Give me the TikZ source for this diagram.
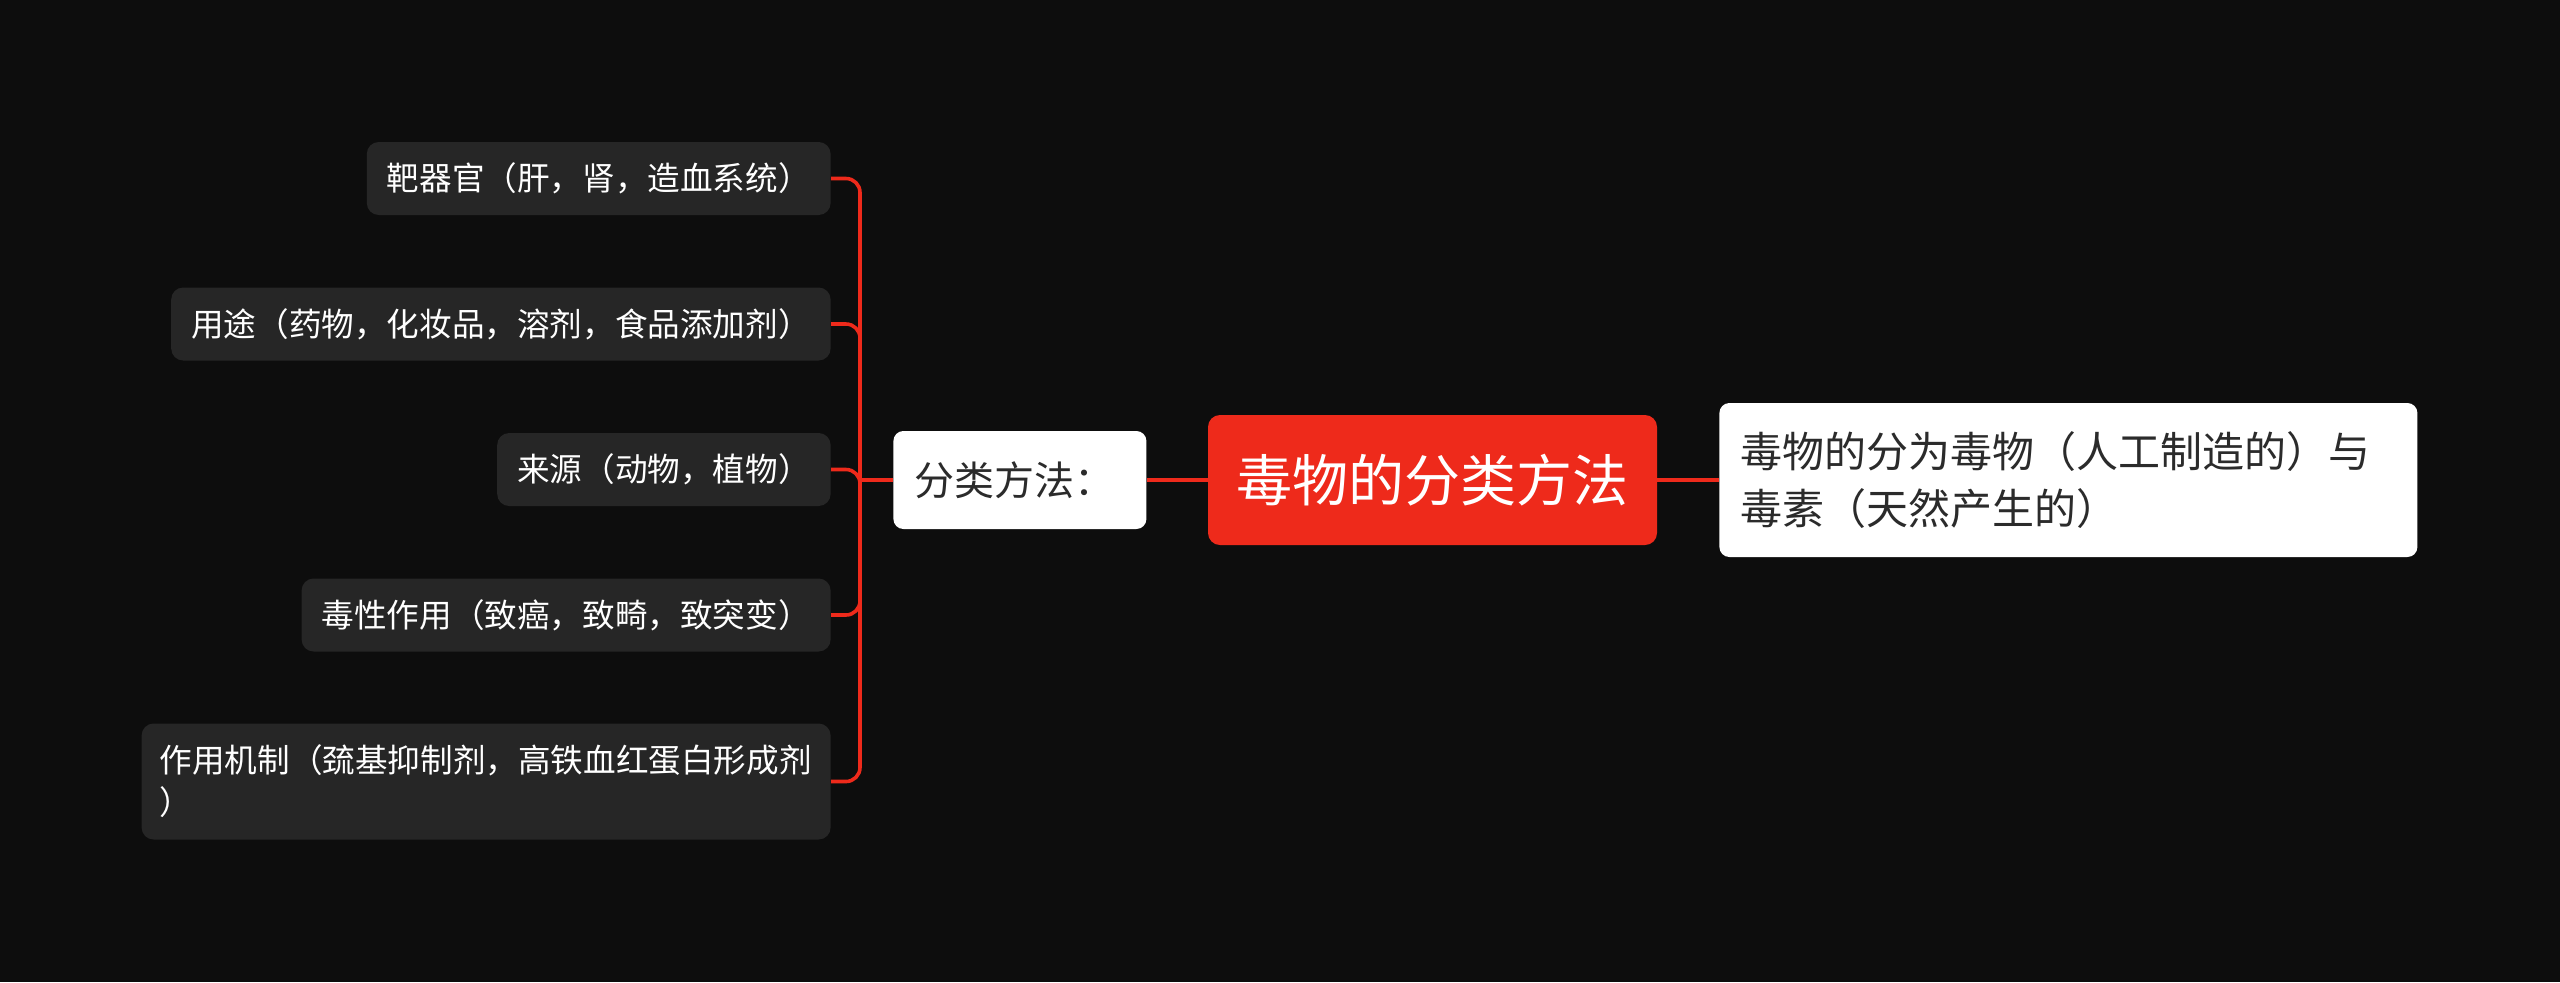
\documentclass[tikz,border=0pt]{standalone}
\usepackage{fontspec}
\setmainfont{Noto Sans CJK SC}
\definecolor{MMbg}{HTML}{0D0D0D}
\definecolor{MMred}{HTML}{EE2A1B}
\definecolor{MMgrey}{HTML}{262626}
\definecolor{MMtext}{HTML}{2B2B2B}

\begin{document}
\begin{tikzpicture}[x=0.5pt, y=-0.5pt,
    link/.style={draw=MMred, line width=1.8pt, rounded corners=7pt},
    rootbox/.style={fill=MMred, text=white, rounded corners=6pt, inner sep=0pt,
      minimum width=224.5pt, minimum height=65pt, font=\fontsize{28}{34}\selectfont},
    notebox/.style={fill=white, text=MMtext, rounded corners=5pt, inner xsep=10.5pt,
      inner ysep=0pt, minimum height=77pt, text width=328pt, align=left,
      font=\fontsize{21}{28.5}\selectfont},
    catbox/.style={fill=white, text=MMtext, rounded corners=5pt, inner xsep=10.5pt,
      inner ysep=0pt, minimum height=49pt, text width=105.5pt, align=left,
      font=\fontsize{20}{26}\selectfont},
    leafbox/.style={fill=MMgrey, text=white, rounded corners=6pt, inner xsep=10pt,
      inner ysep=0pt, minimum height=36.5pt, align=left,
      font=\fontsize{16.3}{21}\selectfont}]
    % Hintergrund
    \fill[MMbg] (0,0) rectangle (2560,982);
    \useasboundingbox (0,0) rectangle (2560,982);

    % Hauptknoten
    \node[rootbox] (root) at (1432.5,480) {毒物的分类方法};
    \node[notebox, anchor=west] (note) at (1719,480)
      {毒物的分为毒物（人工制造的）与\\毒素（天然产生的）};
    \node[catbox, anchor=west] (cat) at (893,480) {分类方法：};

    % Blaetter links
    \node[leafbox, anchor=east] (organ) at (831,178.5) {靶器官（肝，肾，造血系统）};
    \node[leafbox, anchor=east] (use) at (831,324) {用途（药物，化妆品，溶剂，食品添加剂）};
    \node[leafbox, anchor=east] (source) at (831,469.5) {来源（动物，植物）};
    \node[leafbox, anchor=east] (effect) at (831,615) {毒性作用（致癌，致畸，致突变）};
    \node[leafbox, anchor=east, inner xsep=9pt, minimum height=58pt, text width=326.5pt]
      (mech) at (831,781.5) {作用机制（巯基抑制剂，高铁血红蛋白形成剂\\）};

    % Verbindungen
    \coordinate (bus) at (860,480);
    \foreach \leaf in {organ,use,source,effect,mech}
      \draw[link] (\leaf.east) -| (bus);
    \draw[link] (bus) -- (cat.west);
    \draw[link] (cat.east) -- (root.west);
    \draw[link] (root.east) -- (note.west);
  \end{tikzpicture}
\end{document}
